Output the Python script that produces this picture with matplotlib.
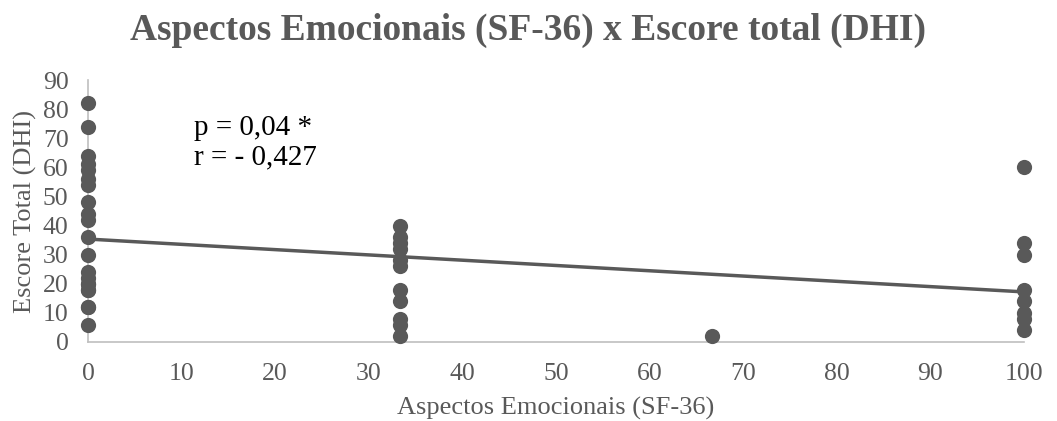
import numpy as np
import matplotlib.pyplot as plt

plt.rcParams['font.family'] = ['Liberation Serif', 'DejaVu Serif']

# Aspectos Emocionais (SF-36) vs Escore total (DHI)
# (some points overlap at the same position)
x0 = [0] * 21
y0 = [82, 74, 64, 61, 59, 56, 54, 48, 44, 42, 36, 30, 24, 22, 20, 20, 18, 18, 12, 12, 6]
x33 = [33.3] * 11
y33 = [40, 36, 34, 32, 28, 26, 18, 14, 8, 6, 2]
x67 = [66.7]
y67 = [2]
x100 = [100] * 8
y100 = [60, 34, 30, 18, 14, 10, 8, 4]

xs = np.array(x0 + x33 + x67 + x100)
ys = np.array(y0 + y33 + y67 + y100)

gray = '#595959'
fig = plt.figure(figsize=(10.57, 4.21), dpi=100)
ax = fig.add_axes([88 / 1057, 1 - 342 / 421, (1024 - 88) / 1057, (342 - 80) / 421])

ax.scatter(xs, ys, s=120, color=gray, zorder=3, clip_on=False, linewidths=0)
k, b = np.polyfit(xs, ys, 1)
lx = np.array([0, 100])
ax.plot(lx, k * lx + b, color=gray, lw=2.5, zorder=2)

ax.set_xlim(0, 100)
ax.set_ylim(0, 90)
ax.set_xticks(range(0, 101, 10))
ax.set_yticks(range(0, 91, 10))
for s in ['top', 'right']:
    ax.spines[s].set_visible(False)
for s in ['left', 'bottom']:
    ax.spines[s].set_color('#bfbfbf')
    ax.spines[s].set_linewidth(1.2)
ax.tick_params(length=0, labelsize=18.5, labelcolor=gray)
ax.tick_params(axis='x', pad=15)
ax.tick_params(axis='y', pad=14)

ax.set_xlabel('Aspectos Emocionais (SF-36)', fontsize=19, color=gray, labelpad=9)
ax.set_ylabel('Escore Total (DHI)', fontsize=19, color=gray, labelpad=4)
fig.suptitle('Aspectos Emocionais (SF-36) x Escore total (DHI)', fontsize=27,
             fontweight='bold', color=gray, y=0.97)
ax.text(11.3, 68.5, 'p = 0,04 *\nr = - 0,427', fontsize=21, color='black',
        va='center', linespacing=1.15)

fig.savefig('out.png', dpi=100)
